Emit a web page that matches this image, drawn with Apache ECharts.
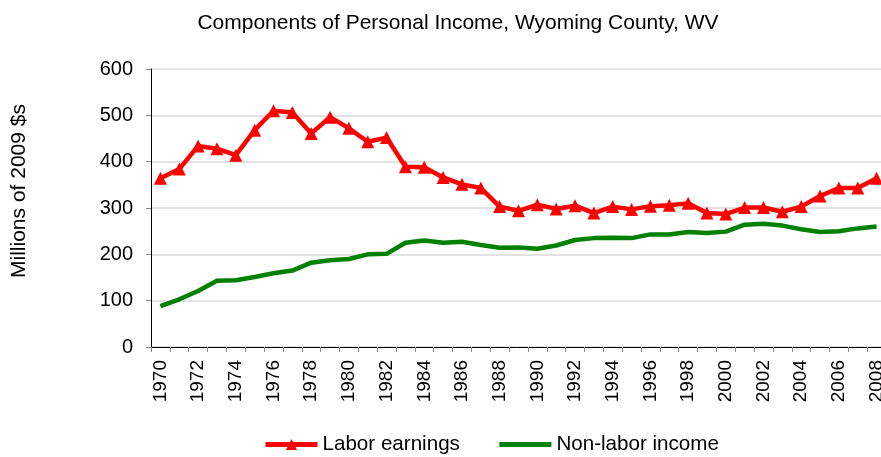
<!DOCTYPE html>
<html><head><meta charset="utf-8">
<script src="https://cdn.jsdelivr.net/npm/echarts@6/dist/echarts.min.js"></script>
<style>html,body{margin:0;padding:0;background:#fff}#c{width:881px;height:457px}</style>
</head><body><div id="c"></div>
<script>
const years = [];
for (let y = 1970; y <= 2008; y++) years.push(String(y));
const laborEarnings = [364,384,434,428,414,468,510,506,461,496,472,443,452,389,388,366,351,343,303,294,307,298,305,289,303,297,304,306,310,289,287,301,301,292,303,326,343,343,364];
const nonLaborIncome = [88,103,121,143,144,151,159,165,182,187,190,200,201,225,230,225,227,220,214,215,212,219,231,235,236,235,243,243,248,246,249,264,266,262,254,248,250,256,260];
const yTicks = [0,100,200,300,400,500,600];
const titleText = 'Components of Personal Income, Wyoming County, WV';
const yName = 'Millions of 2009 $s';
const FONT = 'Liberation Sans, Arial, sans-serif';

const chart = echarts.init(document.getElementById('c'), null, {renderer:'canvas'});
chart.setOption({
  animation: false,
  backgroundColor: '#fff',
  title: {text: titleText, left: 453, top: 8, textAlign: 'center',
    textStyle: {fontFamily: FONT, fontSize: 21, fontWeight: 'normal', color: '#000'}},
  legend: {top: 429, left: 258, itemWidth: 52, itemHeight: 14, itemGap: 37,
    textStyle: {fontFamily: FONT, fontSize: 20.6, color: '#000'},
    lineStyle: {width: 5},
    data: [{name: 'Labor earnings'}, {name: 'Non-labor income', itemStyle: {opacity: 0}}]},
  graphic: [{type: 'text', x: 19, y: 191, rotation: Math.PI / 2,
    style: {text: yName, font: '21px ' + FONT, fill: '#000', align: 'center', verticalAlign: 'middle'}}],
  grid: {left: 151, right: -5, top: 69, bottom: 110, outerBoundsMode: 'none'},
  xAxis: {type: 'category', data: years, boundaryGap: true,
    axisLine: {lineStyle: {color: '#000', width: 1}},
    axisTick: {show: true, interval: 0, length: 5, lineStyle: {color: '#888'}},
    axisLabel: {interval: 1, rotate: 90, fontFamily: FONT, fontSize: 19, color: '#000', margin: 13}},
  yAxis: {type: 'value', min: yTicks[0], max: yTicks[yTicks.length-1], interval: 100,
    axisLine: {show: true, lineStyle: {color: '#000', width: 1}},
    axisTick: {show: true, length: 5, lineStyle: {color: '#888'}},
    axisLabel: {fontFamily: FONT, fontSize: 20, color: '#000', margin: 18},
    splitLine: {lineStyle: {color: '#d9d9d9', width: 1.5}}},
  series: [
    {name: 'Labor earnings', type: 'line', data: laborEarnings,
      symbol: 'triangle', symbolSize: 13, showAllSymbol: true,
      itemStyle: {color: '#ff0000'}, lineStyle: {color: '#ff0000', width: 4.5}, z: 3},
    {name: 'Non-labor income', type: 'line', data: nonLaborIncome,
      symbol: 'none', itemStyle: {color: '#008000'}, lineStyle: {color: '#008000', width: 4.5}, z: 2}
  ]
});
</script></body></html>
